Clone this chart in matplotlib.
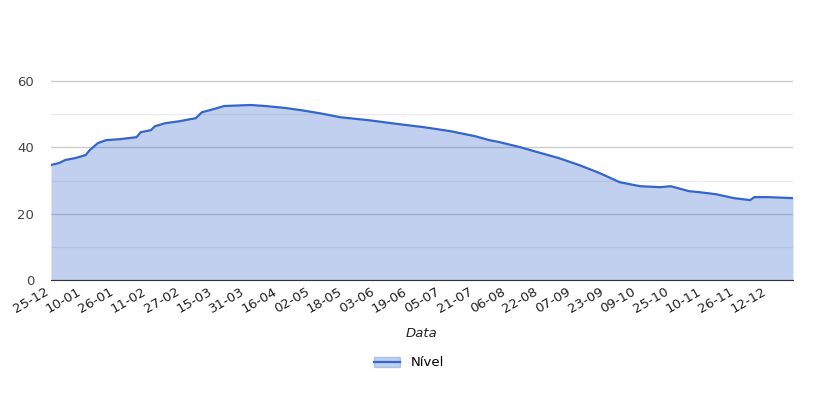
import matplotlib
matplotlib.use("Agg")
import matplotlib.pyplot as plt
import matplotlib.patches as mpatches
import numpy as np
import datetime as dt

start = dt.date(2022, 12, 25)
day_offsets = [0,4,7,12,17,19,23,27,34,42,44,49,51,56,63,68,71,74,80,85,98,105,115,122,132,142,156,171,183,196,208,215,220,230,242,249,259,269,279,289,299,304,313,318,326,335,343,345,352,364]
nivel = [34.7,35.3,36.2,36.8,37.7,39.2,41.3,42.2,42.5,43.1,44.6,45.2,46.4,47.3,47.9,48.5,48.8,50.6,51.6,52.5,52.8,52.5,51.9,51.3,50.3,49.1,48.2,47.0,46.1,44.9,43.4,42.2,41.6,40.1,38.0,36.8,34.7,32.3,29.5,28.3,28.0,28.3,26.8,26.5,25.9,24.7,24.1,25.0,25.0,24.7]
tick_days = list(range(0, 353, 16))

x = np.array(day_offsets)
tick_labels = [(start + dt.timedelta(days=int(d))).strftime("%d-%m") for d in tick_days]

fig = plt.figure(figsize=(8.18, 4.08), dpi=100)
ax = fig.add_axes([51/818, 1-280/408, (793-51)/818, (280-48)/408])
ax.fill_between(x, nivel, 0, color="#3366cc", alpha=0.3, linewidth=0)
line, = ax.plot(x, nivel, color="#3366cc", linewidth=1.6)
ax.set_xlim(0, 364)
ax.set_ylim(0, 70)
ax.set_yticks([0, 20, 40, 60])
ax.set_yticks([10, 30, 50], minor=True)
ax.grid(axis="y", which="major", color="#cccccc", linewidth=1)
ax.grid(axis="y", which="minor", color="#ebebeb", linewidth=1)
ax.set_axisbelow(True)
for s in ["top", "right", "left"]:
    ax.spines[s].set_visible(False)
ax.spines["bottom"].set_color("#333333")
ax.tick_params(axis="y", which="both", length=0, labelsize=9.5, labelcolor="#444444", pad=12)
ax.tick_params(axis="x", length=0, labelsize=9.5, labelcolor="#222222")
ax.set_xticks(tick_days)
ax.set_xticklabels(tick_labels, rotation=30, ha="right")
ax.set_xlabel("Data", fontstyle="italic", fontsize=9.5, color="#222222", labelpad=8)
handle = (mpatches.Patch(color="#3366cc", alpha=0.3), line)
fig.legend([handle], ["Nível"], loc="center", bbox_to_anchor=(0.5, 1-363/408), frameon=False, fontsize=9.5, handlelength=2)
fig.savefig("out.png", dpi=100)
